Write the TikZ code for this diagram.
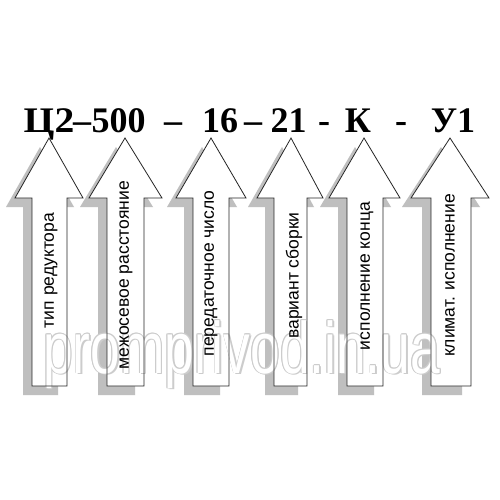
\documentclass[tikz,border=0pt]{standalone}
\usepackage{fontspec}
\usepackage{graphicx}
\setmainfont{Liberation Serif}
\setsansfont{Liberation Sans}
\begin{document}
\begin{tikzpicture}[x=1pt,y=-1pt,
  arrowline/.style={draw=black!85, line width=0.8pt, line join=miter},
  shadowshape/.style={fill=black!25, draw=none},
  ttl/.style={anchor=base, font=\fontsize{36}{36}\selectfont\bfseries, inner sep=0pt},
  lbl/.style={rotate=90, font=\sffamily\fontsize{17.5}{18}\selectfont, inner sep=0pt},
  wmtext/.style={anchor=base west, inner sep=0pt, font=\sffamily\fontsize{73}{73}\selectfont}
]
\useasboundingbox[fill=white] (0,0) rectangle (500,500);
% arrow macro: tip x, head left, head right, shaft left, shaft right
\newcommand\arrshape[5]{(#1,138) -- (#3,198) -- (#5,198) -- (#5,386) -- (#4,386) -- (#4,198) -- (#2,198) -- cycle}
% shadows
\begin{scope}[shift={(-9,9)}]
  \fill[shadowshape] \arrshape{49}{15}{83}{32}{67};
  \fill[shadowshape] \arrshape{125}{89}{162}{107}{144};
  \fill[shadowshape] \arrshape{211}{176}{246}{193}{229};
  \fill[shadowshape] \arrshape{291}{257}{323}{274}{307};
  \fill[shadowshape] \arrshape{364}{329}{400}{347}{383};
  \fill[shadowshape] \arrshape{450}{411}{489}{431}{471};
\end{scope}
% arrows (white bodies)
\fill[white] \arrshape{49}{15}{83}{32}{67};
\fill[white] \arrshape{125}{89}{162}{107}{144};
\fill[white] \arrshape{211}{176}{246}{193}{229};
\fill[white] \arrshape{291}{257}{323}{274}{307};
\fill[white] \arrshape{364}{329}{400}{347}{383};
\fill[white] \arrshape{450}{411}{489}{431}{471};
% watermark (outlined)
\foreach \dx/\dy in {0.8/0,-0.8/0,0/0.8,0/-0.8,0.6/0.6,-0.6/0.6,0.6/-0.6,-0.6/-0.6,1.5/1.5}{
  \node[wmtext, text=black!20] at (43+\dx,373+\dy) {\scalebox{0.73}[1]{promprivod.in.ua}};
}
\node[wmtext, text=white] (wm) at (43,373) {\scalebox{0.73}[1]{promprivod.in.ua}};
% arrow outlines
\draw[arrowline] \arrshape{49}{15}{83}{32}{67};
\draw[arrowline] \arrshape{125}{89}{162}{107}{144};
\draw[arrowline] \arrshape{211}{176}{246}{193}{229};
\draw[arrowline] \arrshape{291}{257}{323}{274}{307};
\draw[arrowline] \arrshape{364}{329}{400}{347}{383};
\draw[arrowline] \arrshape{450}{411}{489}{431}{471};
% labels
\node[lbl] (l1) at (51,270.5) {тип редуктора};
\node[lbl] (l2) at (126,275) {межосевое расстояние};
\node[lbl] (l3) at (211,273.5) {передаточное число};
\node[lbl] (l4) at (294,275.5) {вариант сборки};
\node[lbl] (l5) at (367,276) {исполнение конца};
\node[lbl] (l6) at (450,275.5) {климат. исполнение};
% title
\node[ttl] (t1) at (49,132) {\scalebox{1.1}[1]{Ц2}};
\node[ttl] (t2) at (82,132) {–};
\node[ttl] (t3) at (118.5,132) {500};
\node[ttl] (t4) at (173,132) {–};
\node[ttl] (t5) at (220,132) {16};
\node[ttl] (t6) at (253,132) {–};
\node[ttl] (t7) at (288.5,132) {21};
\node[ttl] (t8) at (324,132) {-};
\node[ttl] (t9) at (358,132) {К};
\node[ttl] (t10) at (401,132) {-};
\node[ttl] (t11) at (453,132) {У1};
\end{tikzpicture}
\end{document}
